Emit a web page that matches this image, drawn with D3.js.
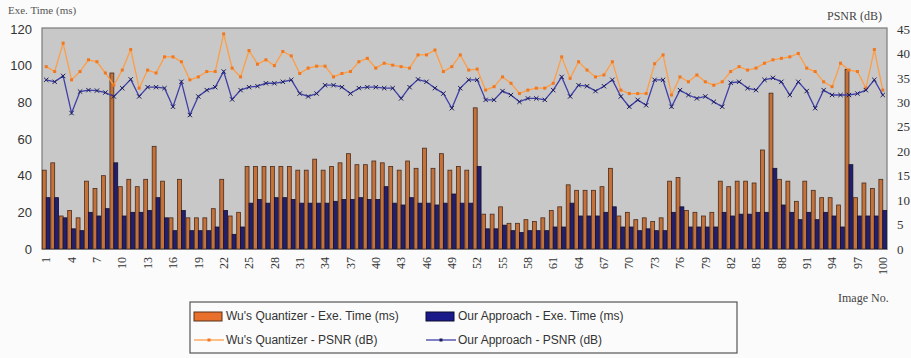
<!DOCTYPE html>
<html>
<head>
<meta charset="utf-8">
<script src="https://cdn.jsdelivr.net/npm/d3@7"></script>
<style>
  html, body { margin: 0; padding: 0; background: #fbfbfb; }
  svg { display: block; }
</style>
</head>
<body>
<div id="chart"></div>
<script>
// Image numbers 1..100
const images = d3.range(1, 101);
const xTickLabels = d3.range(1, 101, 3);
const leftTicks = [0, 20, 40, 60, 80, 100, 120];
const rightTicks = [0, 5, 10, 15, 20, 25, 30, 35, 40, 45];

// Execution time (ms)
const wuTime = [
  43, 47, 18, 21, 17, 37, 33, 40, 96, 34,
  38, 34, 38, 56, 37, 17, 38, 17, 17, 17,
  22, 38, 18, 20, 45, 45, 45, 45, 45, 45,
  43, 43, 49, 43, 45, 47, 52, 46, 46, 48,
  47, 45, 43, 48, 44, 55, 44, 52, 43, 45,
  43, 77, 19, 19, 23, 14, 14, 16, 15, 17,
  21, 23, 35, 32, 32, 32, 34, 44, 18, 20,
  16, 17, 15, 17, 37, 39, 21, 20, 18, 20,
  37, 34, 37, 37, 36, 54, 85, 38, 37, 26,
  37, 32, 28, 28, 24, 98, 28, 36, 33, 38
];
const ourTime = [
  28, 28, 17, 11, 10, 20, 18, 22, 47, 18,
  20, 20, 21, 28, 17, 10, 21, 10, 10, 10,
  12, 21, 8, 12, 25, 27, 25, 28, 28, 27,
  25, 25, 25, 25, 26, 27, 27, 28, 27, 27,
  34, 25, 24, 28, 25, 25, 24, 25, 30, 25,
  25, 45, 11, 11, 13, 10, 9, 10, 10, 10,
  12, 12, 25, 18, 18, 18, 20, 23, 12, 12,
  10, 11, 10, 10, 20, 23, 12, 12, 12, 12,
  20, 18, 19, 19, 20, 20, 44, 24, 20, 16,
  20, 16, 20, 18, 12, 46, 18, 18, 18, 21
];

// PSNR (dB)
const wuPsnr = [
  37.3, 36.3, 42.1, 34.6, 36.3, 38.7, 38.3, 36.0, 33.5, 36.6,
  40.8, 32.9, 36.6, 36.0, 39.3, 39.3, 38.3, 34.6, 35.2, 36.3,
  36.3, 44.0, 37.0, 35.2, 40.6, 37.8, 38.7, 37.5, 40.4, 39.5,
  35.9, 37.0, 37.4, 37.4, 35.2, 35.9, 36.3, 38.3, 39.0, 37.0,
  38.0, 37.6, 37.3, 37.0, 39.7, 39.7, 40.7, 36.3, 37.3, 39.7,
  36.6, 36.8, 32.5, 33.2, 35.2, 33.9, 31.8, 32.5, 32.9, 32.9,
  33.9, 39.3, 34.9, 38.3, 36.6, 35.2, 35.6, 38.3, 32.5, 31.8,
  31.8, 31.8, 37.9, 39.7, 31.5, 35.2, 34.2, 35.6, 34.2, 33.5,
  34.2, 36.3, 37.3, 36.6, 37.0, 38.0, 38.7, 39.0, 39.3, 40.0,
  37.0, 36.3, 34.2, 33.2, 38.0, 36.6, 36.3, 32.9, 40.8, 32.5
];
const ourPsnr = [
  34.6, 34.2, 35.4, 27.8, 32.2, 32.5, 32.4, 32.0, 31.2, 32.9,
  34.7, 31.2, 33.1, 33.1, 32.9, 29.1, 34.2, 27.4, 31.2, 32.5,
  33.1, 36.3, 30.6, 32.5, 33.1, 33.3, 33.9, 33.9, 34.2, 34.6,
  31.8, 31.2, 31.8, 33.5, 33.5, 33.1, 31.8, 32.9, 33.1, 33.1,
  32.9, 32.9, 30.8, 33.1, 34.7, 34.2, 32.9, 31.8, 28.8, 32.9,
  34.6, 34.6, 30.5, 30.5, 32.3, 31.5, 30.1, 30.8, 30.8, 30.5,
  32.5, 35.2, 31.2, 33.5, 33.3, 32.3, 33.3, 34.6, 31.2, 29.1,
  30.5, 29.4, 34.6, 34.6, 29.1, 32.5, 31.5, 30.8, 31.2, 30.1,
  29.1, 34.0, 34.2, 32.9, 32.5, 34.6, 35.0, 34.2, 31.5, 34.2,
  32.3, 28.8, 32.5, 31.5, 31.5, 31.5, 31.8, 32.5, 34.6, 31.5
];

const seriesNames = [
  "Wu's Quantizer - Exe. Time (ms)",
  "Our Approach - Exe. Time (ms)",
  "Wu's Quantizer - PSNR (dB)",
  "Our Approach - PSNR (dB)"
];

const W = 911, H = 358;
const plot = { left: 42, right: 887, top: 29, bottom: 249 };

const svg = d3.select("#chart").append("svg")
  .attr("width", W).attr("height", H)
  .style("font-family", "'Liberation Serif', serif");

const x = d3.scaleBand().domain(images)
  .range([plot.left, plot.right]).paddingInner(0.08).paddingOuter(0.04);
const x1 = d3.scaleBand().domain(["wu", "our"]).range([0, x.bandwidth()]);
const yL = d3.scaleLinear().domain([0, 120]).range([plot.bottom, plot.top]);
const yR = d3.scaleLinear().domain([0, 45]).range([plot.bottom, plot.top]);

// plot area background
svg.append("rect")
  .attr("x", plot.left).attr("y", plot.top - 1)
  .attr("width", plot.right - plot.left).attr("height", plot.bottom - plot.top + 1)
  .attr("fill", "#c8c8c8").attr("stroke", "#7a7a7a").attr("stroke-width", 1.2);

// bars
const barData = images.map((img, i) => ({ img, wu: wuTime[i], our: ourTime[i] }));
const groups = svg.append("g").selectAll("g").data(barData).join("g")
  .attr("transform", d => `translate(${x(d.img)},0)`);
groups.append("rect")
  .attr("x", x1("wu")).attr("width", x1.bandwidth())
  .attr("y", d => yL(d.wu)).attr("height", d => yL(0) - yL(d.wu))
  .attr("fill", "#c4713a").attr("stroke", "#4a2c1c").attr("stroke-width", 0.8);
groups.append("rect")
  .attr("x", x1("our")).attr("width", x1.bandwidth())
  .attr("y", d => yL(d.our)).attr("height", d => yL(0) - yL(d.our))
  .attr("fill", "#22206e").attr("stroke", "#140f30").attr("stroke-width", 0.8);

// PSNR lines
const cx = d => x(d.img) + x.bandwidth() / 2;
const wuLine = images.map((img, i) => ({ img, v: wuPsnr[i] }));
const ourLine = images.map((img, i) => ({ img, v: ourPsnr[i] }));
const line = d3.line().x(cx).y(d => yR(d.v));

svg.append("path").datum(wuLine).attr("d", line)
  .attr("fill", "none").attr("stroke", "#ff9d45").attr("stroke-width", 1.3);
svg.append("g").selectAll("rect").data(wuLine).join("rect")
  .attr("x", d => cx(d) - 1.5).attr("y", d => yR(d.v) - 1.5)
  .attr("width", 3).attr("height", 3).attr("fill", "#f07820");

svg.append("path").datum(ourLine).attr("d", line)
  .attr("fill", "none").attr("stroke", "#3f3fa8").attr("stroke-width", 1.3);
const cross = d3.symbol().type(d3.symbolX).size(14);
svg.append("g").selectAll("path").data(ourLine).join("path")
  .attr("transform", d => `translate(${cx(d)},${yR(d.v)})`)
  .attr("d", cross).attr("stroke", "#1c1c5c").attr("stroke-width", 1).attr("fill", "none");

// axes
const leftAxis = svg.append("g").attr("transform", `translate(${plot.left},0)`)
  .call(d3.axisLeft(yL).tickValues(leftTicks).tickSize(0).tickPadding(10));
leftAxis.select(".domain").remove();
leftAxis.selectAll("text").attr("font-size", 13)
  .attr("font-family", "'Liberation Sans', Arial, sans-serif").attr("fill", "#333");

const rightAxis = svg.append("g").attr("transform", `translate(${plot.right},0)`)
  .call(d3.axisRight(yR).tickValues(rightTicks).tickSize(0).tickPadding(10));
rightAxis.select(".domain").remove();
rightAxis.selectAll("text").attr("font-size", 13)
  .attr("font-family", "'Liberation Serif', serif").attr("fill", "#333");

const bottomAxis = svg.append("g").attr("transform", `translate(0,${plot.bottom})`)
  .call(d3.axisBottom(x).tickValues(xTickLabels).tickSize(0).tickPadding(0));
bottomAxis.select(".domain").attr("stroke", "#7a7a7a");
bottomAxis.selectAll("text")
  .attr("transform", "rotate(-90)")
  .attr("text-anchor", "end")
  .attr("dx", "-8px").attr("dy", "0.35em")
  .attr("y", 0)
  .attr("font-size", 12).attr("font-family", "'Liberation Serif', serif").attr("fill", "#333");

// axis titles
svg.append("text").attr("x", 8).attr("y", 14).text("Exe. Time (ms)")
  .attr("font-size", 11).attr("fill", "#555");
svg.append("text").attr("x", 827).attr("y", 20).text("PSNR (dB)")
  .attr("font-size", 12).attr("fill", "#444");
svg.append("text").attr("x", 838).attr("y", 302).text("Image No.")
  .attr("font-size", 12).attr("fill", "#444");

// legend
const lg = svg.append("g").attr("font-family", "'Liberation Sans', Arial, sans-serif")
  .attr("font-size", 12).attr("fill", "#333");
lg.append("rect").attr("x", 190).attr("y", 302).attr("width", 547).attr("height", 51)
  .attr("fill", "#fbfbfb").attr("stroke", "#555").attr("stroke-width", 1.2);

const legendItems = [
  { name: seriesNames[0], kind: "bar", fill: "#e8702a", stroke: "#5a3018", x: 194, y: 316 },
  { name: seriesNames[1], kind: "bar", fill: "#1a1a8a", stroke: "#0c0c30", x: 426, y: 316 },
  { name: seriesNames[2], kind: "line", color: "#ff9d45", mark: "#f07820", x: 194, y: 340 },
  { name: seriesNames[3], kind: "line", color: "#3f3fa8", mark: "#1c1c5c", x: 426, y: 340 }
];
legendItems.forEach(it => {
  const g = lg.append("g").attr("transform", `translate(${it.x},${it.y})`);
  if (it.kind === "bar") {
    g.append("rect").attr("x", 0).attr("y", -4).attr("width", 28).attr("height", 9)
      .attr("fill", it.fill).attr("stroke", it.stroke).attr("stroke-width", 1);
  } else {
    g.append("line").attr("x1", 0).attr("x2", 30).attr("y1", 0).attr("y2", 0)
      .attr("stroke", it.color).attr("stroke-width", 1.3);
    g.append("rect").attr("x", 13.5).attr("y", -1.5).attr("width", 3).attr("height", 3)
      .attr("fill", it.mark);
  }
  g.append("text").attr("x", 32).attr("y", 0).attr("dy", "0.35em").text(it.name);
});
</script>
</body>
</html>
